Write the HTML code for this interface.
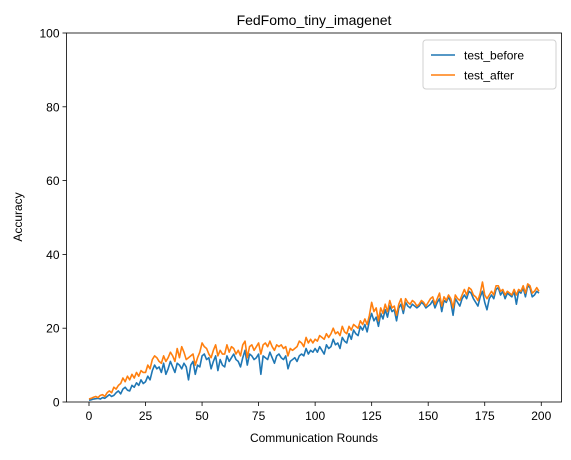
<!DOCTYPE html>
<html><head><meta charset="utf-8"><style>
body{margin:0;background:#fff}
svg{font-family:"Liberation Sans","DejaVu Sans",sans-serif}
</style></head><body>
<svg id="chart" width="571" height="455" xmlns="http://www.w3.org/2000/svg">
<rect width="571" height="455" fill="#fff"/>
<text x="314" y="25" text-anchor="middle" font-size="14" fill="#000">FedFomo_tiny_imagenet</text>
<g id="plot"></g>
<text x="314" y="442" text-anchor="middle" font-size="12">Communication Rounds</text>
<text transform="translate(22,217) rotate(-90)" text-anchor="middle" font-size="12">Accuracy</text>
<g>
<rect x="423" y="40" width="133" height="49" rx="3" fill="#fff" stroke="#d0d0d0"/>
<line x1="431" y1="55" x2="455" y2="55" stroke="#1f77b4" stroke-width="1.6"/>
<text x="464" y="59.5" font-size="12">test_before</text>
<line x1="431" y1="75" x2="455" y2="75" stroke="#ff7f0e" stroke-width="1.6"/>
<text x="464" y="79.5" font-size="12">test_after</text>
</g>
</svg>
<script>
const testBefore=[0.5,0.6,0.8,0.9,1.0,0.8,1.2,1.0,1.5,2.0,1.5,1.8,2.5,3.0,2.2,3.5,4.0,3.2,3.0,4.5,4.0,5.2,4.5,6.0,5.0,
5.5,7.0,6.0,8.5,10.0,9.0,9.5,8.0,10.5,7.5,9.0,11.0,9.5,8.0,10.5,10.0,9.0,10.5,9.5,6.0,10.0,11.0,7.5,10.0,9.5,
12.5,13.0,11.5,12.0,9.0,11.0,12.5,8.5,11.5,10.0,9.5,12.5,11.0,12.0,13.0,11.5,11.0,9.5,12.0,14.0,10.0,13.0,12.5,11.5,12.0,
13.0,7.5,12.5,12.0,11.5,13.5,12.0,10.5,12.5,13.0,12.0,11.5,12.5,9.0,11.0,11.5,12.0,11.0,12.5,13.0,12.5,14.5,13.0,14.0,13.5,
14.5,13.5,15.0,14.0,13.0,15.5,14.5,15.0,17.0,15.5,16.0,14.5,17.5,16.5,16.0,18.5,17.0,19.5,18.5,18.0,20.5,19.5,21.0,19.0,22.0,
24.0,22.0,23.0,20.5,24.0,22.5,25.0,23.0,26.0,24.5,25.0,22.0,25.5,26.5,24.0,27.0,26.0,25.5,26.5,26.0,25.5,26.0,27.0,26.5,25.5,
26.0,26.5,27.5,25.5,27.0,28.0,24.5,27.5,27.0,28.5,27.0,23.5,28.0,27.0,26.0,28.0,29.0,28.0,30.0,29.5,28.0,27.0,26.0,28.5,30.0,
27.0,25.0,28.0,29.0,28.0,30.5,31.0,29.0,30.0,28.0,29.5,29.0,28.5,30.0,26.5,30.0,29.5,31.0,28.5,31.5,31.0,28.5,29.0,30.0,29.5];
const testAfter=[0.8,1.0,1.3,1.5,1.2,1.8,2.0,1.5,2.5,3.0,2.5,4.0,3.5,4.5,5.0,6.5,5.5,7.0,6.0,7.5,6.5,8.0,7.0,8.5,8.0,
8.0,10.0,9.0,11.5,12.5,12.0,11.0,10.5,12.5,11.0,12.0,13.5,12.5,11.0,14.5,12.0,15.0,13.5,11.5,12.0,12.5,13.0,10.0,12.0,13.5,
16.0,15.0,14.5,13.0,12.0,14.0,15.5,12.5,14.0,13.0,13.0,15.5,13.5,15.0,14.5,13.0,14.0,12.5,15.5,16.5,12.0,15.0,15.5,14.0,15.0,
16.0,13.0,15.5,16.0,15.0,16.5,15.0,14.0,15.5,15.0,15.5,14.5,15.0,12.5,14.5,14.0,14.5,15.0,16.5,16.0,15.0,17.5,16.0,17.0,16.0,
17.0,16.5,18.0,17.5,17.0,18.5,17.5,18.5,20.0,18.5,19.0,18.0,20.5,19.0,18.5,20.5,19.5,21.0,20.5,20.0,22.0,21.0,22.5,21.0,23.5,
27.0,24.5,25.5,22.0,25.5,24.0,26.5,24.5,27.5,25.5,26.0,23.5,26.5,28.0,25.0,28.0,27.0,26.5,27.5,27.0,26.0,26.5,27.5,27.0,26.0,
27.0,28.0,28.5,26.5,28.0,29.5,26.0,28.5,27.5,29.0,28.0,25.5,29.0,28.0,27.5,29.0,30.5,29.0,31.0,30.5,29.0,28.5,27.5,29.5,32.5,
29.0,28.0,29.0,30.0,29.0,31.5,31.5,30.0,30.5,29.0,30.0,29.5,29.0,30.5,29.0,30.5,30.0,31.5,29.5,32.0,31.5,29.5,30.0,31.0,30.0];
const xTicks=[0,25,50,75,100,125,150,175,200];
const yTicks=[0,20,40,60,80,100];

const NS="http://www.w3.org/2000/svg";
const L=66.5,R=561.5,T=33,B=402;
const xMin=-9.95,xMax=208.95,yMin=0,yMax=100;
const xs=v=>L+(v-xMin)/(xMax-xMin)*(R-L);
const ys=v=>B-(v-yMin)/(yMax-yMin)*(B-T);
const g=document.getElementById('plot');
function mk(t,a){const e=document.createElementNS(NS,t);for(const k in a)e.setAttribute(k,a[k]);g.appendChild(e);return e;}
xTicks.forEach(v=>{
  const l=mk('line',{x1:xs(v),x2:xs(v),y1:B,y2:B+4,stroke:'#000','stroke-width':0.8});
  
  
  const t=mk('text',{x:xs(v),y:B+18,'text-anchor':'middle','font-size':12});
  
  
  t.textContent=v;
});
yTicks.forEach(v=>{
  const l=mk('line',{x1:L-4,x2:L,y1:ys(v),y2:ys(v),stroke:'#000','stroke-width':0.8});
  
  
  const t=mk('text',{x:L-7,y:ys(v)+4.5,'text-anchor':'end','font-size':12});
  
  
  t.textContent=v;
});
function series(arr,color,name){
  const d=arr.map((v,i)=>(i?'L':'M')+xs(i).toFixed(2)+','+ys(v).toFixed(2)).join('');
  const p=mk('path',{d:d,fill:'none',stroke:color,'stroke-width':1.6,'stroke-linejoin':'round'});
  
  
}
series(testBefore,'#1f77b4','test-before-line');
series(testAfter,'#ff7f0e','test-after-line');
const f=mk('rect',{x:L,y:T,width:R-L,height:B-T,fill:'none',stroke:'#000','stroke-width':0.8});


</script>
</body></html>
